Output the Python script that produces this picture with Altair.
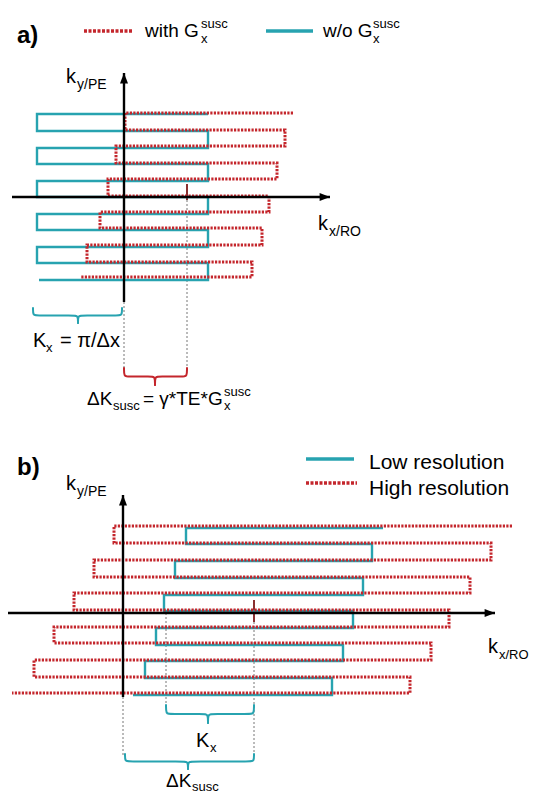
import altair as alt
import pandas as pd

# ---------------- panel a) : trajectories (diagram units = page px) -------------
A_CYAN_X = [208, 37, 37, 208, 208, 37, 37, 208, 208, 37, 37, 208, 208, 37, 37, 208, 208, 37, 37, 208, 208, 39]
A_CYAN_Y = [114, 114, 131, 131, 148, 148, 164, 164, 181, 181, 197, 197, 214, 214, 230, 230, 247, 247, 263, 263, 280, 280]
A_RED_X = [293, 125, 125, 285, 285, 116, 116, 277, 277, 108, 108, 269, 269, 100, 100, 262, 262, 87, 87, 252, 252, 80]
A_RED_Y = [113, 113, 130, 130, 146, 146, 163, 163, 179, 179, 196, 196, 212, 212, 228, 228, 245, 245, 262, 262, 277, 277]

# ---------------- panel b) ----------------
B_RED_X = [512, 114, 114, 491, 491, 94, 94, 470, 470, 74, 74, 449, 449, 54, 54, 431, 431, 34, 34, 410, 410, 12]
B_RED_Y = [526, 526, 543, 543, 560, 560, 577, 577, 593, 593, 610, 610, 627, 627, 643, 643, 660, 660, 677, 677, 693, 693]
B_CYAN_X = [383, 186, 186, 372, 372, 175, 175, 363, 363, 164, 164, 353, 353, 156, 156, 343, 343, 145, 145, 332, 332, 133]
B_CYAN_Y = [528, 528, 544, 544, 561, 561, 578, 578, 595, 595, 611, 611, 628, 628, 645, 645, 661, 661, 678, 678, 695, 695]

# axes: (x1, y1, x2, y2)
AXES = [(124, 302, 124, 73), (12, 197, 330, 197), (123, 697, 123, 495), (8, 613, 495, 613)]
ARROW_UP = [(124, 73), (123, 495)]
ARROW_RIGHT = [(330, 197), (495, 613)]
# gray dotted guides
GUIDES = [(124, 302, 124, 368), (187, 200, 187, 368), (123, 697, 123, 755),
          (166, 613, 166, 705), (254, 622, 254, 755)]
TICKS = [(187, 184, 187, 200), (254, 600, 254, 622)]
# braces: x0, x1, top y, tip x, tip y, colour key
BRACES = [(33, 122, 308, 78, 323, "cyan"), (124, 187, 368, 155, 385, "red"),
          (166, 254, 705, 208, 723, "cyan"), (125, 254, 754, 188, 769, "cyan")]
# legend samples
LEG_RED = [(84, 31, 133, 31), (306, 483, 357, 483)]
LEG_CYAN = [(266, 31, 313, 31), (306, 459, 354, 459)]

TEXTS = [
    # x, y(baseline), text, size
    (145, 37, "with G", 19), (201, 28, "susc", 13), (201, 43, "x", 13),
    (323, 37, "w/o G", 19), (373, 28, "susc", 13), (373, 43, "x", 13),
    (66, 83, "k", 20), (77, 89, "y/PE", 14),
    (318, 230, "k", 20), (329, 236, "x/RO", 14),
    (33, 347, "K", 20), (46, 352, "x", 13), (60, 347, "= π/Δx", 20),
    (87, 405, "ΔK", 19), (113, 410, "susc", 13), (143, 405, "= γ*TE*G", 19),
    (224, 396, "susc", 13), (224, 410, "x", 13),
    (66, 490, "k", 20), (77, 496, "y/PE", 14),
    (369, 469, "Low resolution", 21), (369, 495, "High resolution", 21),
    (488, 653, "k", 20), (499, 659, "x/RO", 13),
    (196, 747, "K", 20), (210, 752, "x", 13),
    (166, 787, "ΔK", 19), (192, 791, "susc", 13),
]
BOLD = [(17, 43, "a)", 24), (17, 475, "b)", 24)]

RED = "#c4262c"
CYAN = "#27a3b0"
FONT = "Liberation Sans"

XS = alt.Scale(domain=[8, 530], nice=False, zero=False)
YS = alt.Scale(domain=[8, 797], nice=False, zero=False, reverse=True)


def path_df(xs, ys, pid):
    return pd.DataFrame({"x": xs, "y": ys, "pid": pid, "o": list(range(len(xs)))})


def seg_df(segs):
    rows = []
    for i, (x1, y1, x2, y2) in enumerate(segs):
        rows.append({"x": x1, "y": y1, "pid": i, "o": 0})
        rows.append({"x": x2, "y": y2, "pid": i, "o": 1})
    return pd.DataFrame(rows)


def brace_df(braces, key):
    rows = []
    pid = 0
    for x0, x1, yt, xc, yb, k in braces:
        if k != key:
            continue
        ym = (yt + yb) / 2
        left = [(x0, yt), (x0, ym), (x0 + 4, ym), (xc - 4, ym), (xc, ym), (xc, yb)]
        right = [(x1, yt), (x1, ym), (x1 - 4, ym), (xc + 4, ym), (xc, ym), (xc, yb)]
        for half in (left, right):
            for j, (px, py) in enumerate(half):
                rows.append({"x": px, "y": py, "pid": pid, "o": j})
            pid += 1
    return pd.DataFrame(rows)


def lines(df, color, width, dash=None, interp="linear", cap="butt"):
    kw = dict(color=color, strokeWidth=width, interpolate=interp, strokeCap=cap, strokeJoin="miter")
    if dash:
        kw["strokeDash"] = dash
    return alt.Chart(df).mark_line(**kw).encode(
        x=alt.X("x:Q", scale=XS, axis=None),
        y=alt.Y("y:Q", scale=YS, axis=None),
        detail="pid:N",
        order="o:Q",
    )


def arrows(pts, shape):
    df = pd.DataFrame({"x": [p[0] for p in pts], "y": [p[1] for p in pts]})
    return alt.Chart(df).mark_point(shape=shape, filled=True, size=64, color="black",
                                    opacity=1, strokeWidth=0).encode(
        x=alt.X("x:Q", scale=XS, axis=None), y=alt.Y("y:Q", scale=YS, axis=None))


def texts(items, weight="normal"):
    df = pd.DataFrame(items, columns=["x", "y", "t", "s"])
    return alt.Chart(df).mark_text(align="left", baseline="alphabetic", font=FONT,
                                   fontWeight=weight, color="black").encode(
        x=alt.X("x:Q", scale=XS, axis=None),
        y=alt.Y("y:Q", scale=YS, axis=None),
        text="t:N",
        size=alt.Size("s:Q", scale=None, legend=None),
    )


dash_red = [2.2, 1.3]
layers = [
    lines(seg_df(GUIDES), "#777777", 1, dash=[2, 2]),
    lines(seg_df(TICKS), "#8a3030", 2),
    lines(path_df(A_CYAN_X, A_CYAN_Y, "ac"), CYAN, 2.4),
    lines(path_df(B_CYAN_X, B_CYAN_Y, "bc"), CYAN, 2.4),
    lines(path_df(A_RED_X, A_RED_Y, "ar"), RED, 3, dash=dash_red),
    lines(path_df(B_RED_X, B_RED_Y, "br"), RED, 3, dash=dash_red),
    lines(seg_df(AXES), "black", 2.4),
    arrows(ARROW_UP, "M0,0L-1,2.6L1,2.6Z"),
    arrows(ARROW_RIGHT, "M0,0L-2.6,-1L-2.6,1Z"),
    lines(brace_df(BRACES, "cyan"), CYAN, 2, interp="basis", cap="round"),
    lines(brace_df(BRACES, "red"), RED, 2, interp="basis", cap="round"),
    lines(seg_df(LEG_RED), RED, 3.5, dash=[3, 1.5]),
    lines(seg_df(LEG_CYAN), CYAN, 3.5),
    texts(TEXTS),
    texts(BOLD, weight="bold"),
]

chart = alt.layer(*layers).properties(
    width=522, height=789, padding=0, autosize=alt.AutoSizeParams(type="none")
).configure_view(stroke=None)

chart.save("out.html", embed_options={"renderer": "svg", "actions": False})
